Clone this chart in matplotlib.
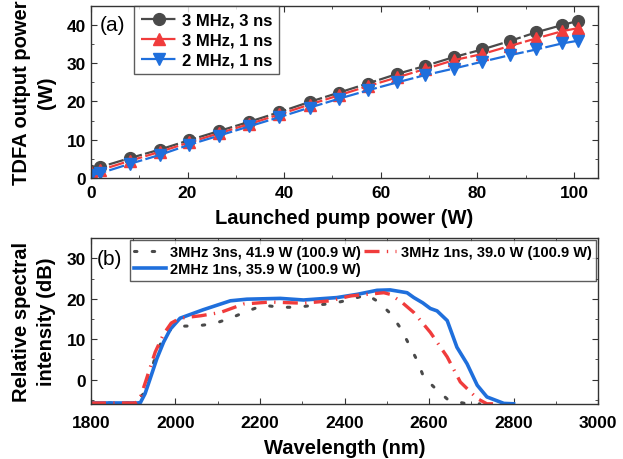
import numpy as np
import matplotlib
matplotlib.use('Agg')
from matplotlib import pyplot as plt
from matplotlib.ticker import MultipleLocator

plt.rcParams['font.family'] = ['Liberation Sans', 'DejaVu Sans']
plt.rcParams['font.weight'] = 'bold'

# (a) output power vs launched pump power
pump_power = [0, 1.8, 8.1, 14.2, 20.4, 26.6, 32.8, 39.0, 45.3, 51.3, 57.3, 63.4,
              69.2, 75.1, 81.0, 86.7, 92.2, 97.6, 100.9]
out_3mhz_3ns = [1.9, 2.8, 5.2, 7.4, 9.9, 12.3, 14.7, 17.2, 19.9, 22.3, 24.7, 27.2,
                29.3, 31.6, 33.6, 35.8, 38.1, 40.0, 41.1]
out_3mhz_1ns = [1.5, 2.0, 4.5, 6.8, 9.3, 11.7, 14.1, 16.6, 19.2, 21.6, 24.0, 26.3,
                28.5, 30.8, 32.4, 34.5, 36.5, 38.4, 39.2]
out_2mhz_1ns = [0.8, 1.2, 3.7, 6.0, 8.7, 11.1, 13.5, 15.9, 18.4, 20.7, 22.9, 25.0,
                26.9, 28.6, 30.4, 32.1, 33.6, 35.2, 35.9]

# (b) spectra
wl_3ns = [1800, 1900, 1925, 1944, 1956, 1975, 1995, 2007, 2051, 2090, 2130, 2169, 2208,
          2248, 2288, 2327, 2370, 2410, 2453, 2481, 2510, 2534, 2554, 2572, 2587,
          2613, 2646, 2690, 2720]
spec_3ns = [-5.8, -5.8, -3.5, 2.7, 7.0, 11.0, 13.0, 13.2, 13.3, 13.8, 15.2, 16.9, 18.4,
            17.9, 17.9, 18.4, 18.8, 19.7, 21.0, 19.2, 16.2, 12.5, 8.4, 4.7, 0.7,
            -2.0, -5.1, -6.0, -6.0]
wl_1ns = [1800, 1905, 1915, 1929, 1952, 1972, 1990, 2011, 2060, 2106, 2161, 2224, 2303,
          2366, 2414, 2493, 2508, 2535, 2564, 2603, 2643, 2674, 2714, 2737, 2760]
spec_1ns = [-5.8, -5.8, -5.0, -0.6, 6.8, 11.3, 14.0, 15.2, 15.8, 16.6, 18.7, 19.2, 18.9,
            19.5, 20.7, 21.5, 21.1, 19.2, 16.6, 11.7, 5.6, -0.6, -4.7, -6.0, -6.0]
wl_2mhz = [1800, 1910, 1917, 1928, 1940, 1956, 1972, 1988, 2011, 2066, 2130, 2169,
           2248, 2303, 2382, 2430, 2477, 2508, 2548, 2564, 2585, 2603, 2619, 2643,
           2666, 2690, 2714, 2737, 2777, 2800]
spec_2mhz = [-5.8, -5.8, -5.7, -3.5, 0.2, 5.2, 9.3, 12.5, 15.2, 17.3, 19.5, 19.9,
             20.1, 19.7, 20.3, 21.1, 22.1, 22.2, 21.5, 20.3, 19.0, 17.6, 17.0, 14.6,
             8.0, 3.9, -1.4, -4.3, -5.9, -6.0]

c_gray = '#4a4a4a'
c_red = '#f03c3c'
c_blue = '#1f6fdc'

fig = plt.figure(figsize=(6.23, 4.60), dpi=100)
ax1 = fig.add_axes([0.146, 0.611, 0.814, 0.374])
ax2 = fig.add_axes([0.146, 0.120, 0.814, 0.360])

dash = (0, (7, 1.5))
ax1.plot(pump_power, out_3mhz_3ns, color=c_gray, marker='o', ms=8.5, lw=1.6,
         ls=dash, label='3 MHz, 3 ns')
ax1.plot(pump_power, out_3mhz_1ns, color=c_red, marker='^', ms=8.5, lw=1.6,
         ls=dash, label='3 MHz, 1 ns')
ax1.plot(pump_power, out_2mhz_1ns, color=c_blue, marker='v', ms=8.5, lw=1.6,
         ls=dash, label='2 MHz, 1 ns')
ax1.set_xlim(0, 105)
ax1.set_ylim(0, 45)
ax1.xaxis.set_major_locator(MultipleLocator(20))
ax1.xaxis.set_minor_locator(MultipleLocator(10))
ax1.yaxis.set_major_locator(MultipleLocator(10))
ax1.yaxis.set_minor_locator(MultipleLocator(5))
ax1.tick_params(axis='x', which='major', pad=5)
ax1.set_xlabel('Launched pump power (W)', fontsize=14.5, fontweight='bold', labelpad=6)
ax1.set_ylabel('TDFA output power\n(W)', fontsize=14.5, fontweight='bold', labelpad=8,
               linespacing=1.35)
ax1.text(0.018, 0.89, '(a)', transform=ax1.transAxes, fontsize=15,
         fontweight='normal', va='center')
leg1 = ax1.legend(loc='upper left', bbox_to_anchor=(0.085, 1.0), fontsize=12,
                  frameon=True, fancybox=False, edgecolor='#333333',
                  handlelength=2.2, borderpad=0.4, labelspacing=0.3,
                  handletextpad=0.3, borderaxespad=0.0)
leg1.get_frame().set_linewidth(1.0)

ax2.plot(wl_3ns, spec_3ns, color=c_gray, lw=2.2, ls=(0, (0.8, 5)),
         dash_capstyle='round', label='3MHz 3ns, 41.9 W (100.9 W)')
ax2.plot(wl_2mhz, spec_2mhz, color=c_blue, lw=2.6, ls='-',
         label='2MHz 1ns, 35.9 W (100.9 W)')
ax2.plot(wl_1ns, spec_1ns, color=c_red, lw=2.4, ls=(0, (4.5, 2.2, 0.4, 2.2)),
         label='3MHz 1ns, 39.0 W (100.9 W)')
ax2.set_xlim(1800, 3000)
ax2.set_ylim(-6, 35)
ax2.xaxis.set_major_locator(MultipleLocator(200))
ax2.xaxis.set_minor_locator(MultipleLocator(100))
ax2.yaxis.set_major_locator(MultipleLocator(10))
ax2.yaxis.set_minor_locator(MultipleLocator(5))
ax2.tick_params(axis='x', which='major', pad=8)
ax2.set_xlabel('Wavelength (nm)', fontsize=14.5, fontweight='bold', labelpad=6)
ax2.set_ylabel('Relative spectral\nintensity (dB)', fontsize=14.5, fontweight='bold',
               labelpad=8, linespacing=1.35)
ax2.text(0.012, 0.875, '(b)', transform=ax2.transAxes, fontsize=15,
         fontweight='normal', va='center')
leg2 = ax2.legend(loc='upper right', ncol=2, fontsize=10.5, frameon=True,
                  fancybox=False, edgecolor='#333333', handlelength=2.2,
                  borderpad=0.3, labelspacing=0.25, handletextpad=0.3,
                  columnspacing=0.2, borderaxespad=0.15)
leg2.get_frame().set_linewidth(1.0)

for ax in (ax1, ax2):
    ax.tick_params(which='both', direction='in', top=True, right=True,
                   labelsize=12.5, color='#333333')
    ax.tick_params(which='major', length=4)
    ax.tick_params(which='minor', length=2.5)
    for lab in ax.get_xticklabels() + ax.get_yticklabels():
        lab.set_fontweight('bold')
    for sp in ax.spines.values():
        sp.set_color('#333333')
        sp.set_linewidth(1.0)

fig.savefig('out.png', dpi=100)
